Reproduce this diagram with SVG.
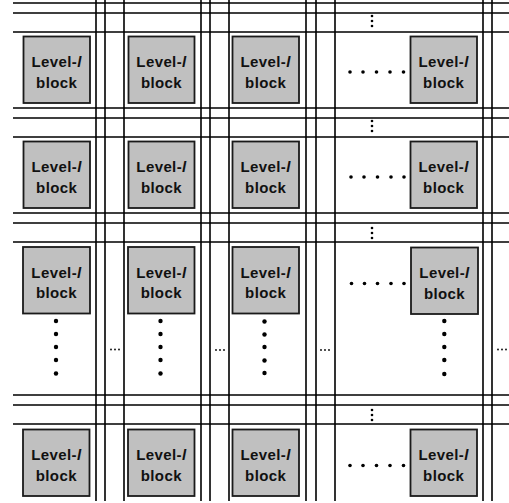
<svg xmlns="http://www.w3.org/2000/svg" width="509" height="503" viewBox="0 0 509 503">
<style>
.ln{stroke:#000;stroke-width:1.6;fill:none}
.blk{fill:#c0c0c0;stroke:#1a1a1a;stroke-width:1.8}
.mk{stroke:#000;stroke-width:2.2}
.t{font-family:"Liberation Sans",Arial,sans-serif;font-size:15px;font-weight:bold;fill:#111;text-anchor:middle;letter-spacing:0.4px}
.d{fill:#000}
</style>
<g id="connectors">
<path class="ln" d="M13 3H509M13 13H509M13 32H509M13 108H509M13 118H509M13 137H509M13 213H509M13 223H509M13 242H509M13 395H509M13 405H509M13 424H509"/>
<path class="ln" d="M96 0V501M105 0V501M124 0V501M201 0V501M210 0V501M229 0V501M306 0V501M316 0V501M335 0V501M483 0V501M492 0V501"/>
</g>
<g id="vdots-bands" class="d">
<circle cx="372" cy="16" r="1.3"/><circle cx="372" cy="21" r="1.3"/><circle cx="372" cy="26" r="1.3"/>
<circle cx="372" cy="121" r="1.3"/><circle cx="372" cy="126" r="1.3"/><circle cx="372" cy="131" r="1.3"/>
<circle cx="372" cy="228" r="1.3"/><circle cx="372" cy="233" r="1.3"/><circle cx="372" cy="238" r="1.3"/>
<circle cx="372" cy="410" r="1.3"/><circle cx="372" cy="415" r="1.3"/><circle cx="372" cy="420" r="1.3"/>
</g>
<g id="hdots" class="d">
<circle cx="350" cy="72" r="1.8"/><circle cx="363" cy="72" r="1.8"/><circle cx="376.5" cy="72" r="1.8"/><circle cx="390" cy="72" r="1.8"/><circle cx="403.5" cy="72" r="1.8"/>
<circle cx="351" cy="177" r="1.8"/><circle cx="364" cy="177" r="1.8"/><circle cx="377.5" cy="177" r="1.8"/><circle cx="391" cy="177" r="1.8"/><circle cx="404" cy="177" r="1.8"/>
<circle cx="351.5" cy="283.5" r="1.8"/><circle cx="364.5" cy="283.5" r="1.8"/><circle cx="377.5" cy="283.5" r="1.8"/><circle cx="391" cy="283.5" r="1.8"/><circle cx="404" cy="283.5" r="1.8"/>
<circle cx="350" cy="465.5" r="1.8"/><circle cx="363" cy="465.5" r="1.8"/><circle cx="376.5" cy="465.5" r="1.8"/><circle cx="390" cy="465.5" r="1.8"/><circle cx="403.5" cy="465.5" r="1.8"/>
</g>
<g id="vdots-cols" class="d">
<circle cx="56" cy="321" r="2.2"/><circle cx="56" cy="334" r="2.2"/><circle cx="56" cy="347" r="2.2"/><circle cx="56" cy="360" r="2.2"/><circle cx="56" cy="373.5" r="2.2"/>
<circle cx="160.5" cy="321" r="2.2"/><circle cx="160.5" cy="334" r="2.2"/><circle cx="160.5" cy="347" r="2.2"/><circle cx="160.5" cy="360" r="2.2"/><circle cx="160.5" cy="373.5" r="2.2"/>
<circle cx="264.5" cy="321.5" r="2.2"/><circle cx="264.5" cy="334.5" r="2.2"/><circle cx="264.5" cy="347" r="2.2"/><circle cx="264.5" cy="360.5" r="2.2"/><circle cx="264.5" cy="373" r="2.2"/>
<circle cx="444.3" cy="321" r="2.2"/><circle cx="444.3" cy="334" r="2.2"/><circle cx="444.3" cy="347" r="2.2"/><circle cx="444.3" cy="360" r="2.2"/><circle cx="444.3" cy="374" r="2.2"/>
</g>
<g id="ellipses" class="d">
<circle cx="111" cy="349.5" r="0.9"/><circle cx="115" cy="349.5" r="0.9"/><circle cx="119" cy="349.5" r="0.9"/>
<circle cx="216" cy="350" r="0.9"/><circle cx="220" cy="350" r="0.9"/><circle cx="224" cy="350" r="0.9"/>
<circle cx="321" cy="350" r="0.9"/><circle cx="325" cy="350" r="0.9"/><circle cx="329" cy="350" r="0.9"/>
<circle cx="498" cy="349.5" r="0.9"/><circle cx="502" cy="349.5" r="0.9"/><circle cx="506" cy="349.5" r="0.9"/>
</g>
<g id="b11"><rect class="blk" x="23.5" y="36.5" width="66.5" height="66.5"/><text class="t" x="56.7" y="67">Level-<tspan font-style="italic">l</tspan></text><text class="t" x="56.7" y="87.5">block</text></g>
<g id="b12"><rect class="blk" x="128.5" y="36.5" width="66" height="66.5"/><text class="t" x="161.5" y="67">Level-<tspan font-style="italic">l</tspan></text><text class="t" x="161.5" y="87.5">block</text></g>
<g id="b13"><rect class="blk" x="232.5" y="36.5" width="66.5" height="66.5"/><text class="t" x="265.7" y="67">Level-<tspan font-style="italic">l</tspan></text><text class="t" x="265.7" y="87.5">block</text></g>
<g id="b14"><rect class="blk" x="410.5" y="36.5" width="66.5" height="66.5"/><text class="t" x="443.7" y="67">Level-<tspan font-style="italic">l</tspan></text><text class="t" x="443.7" y="87.5">block</text></g>
<g id="b21"><rect class="blk" x="23.5" y="141.5" width="66.5" height="66.5"/><text class="t" x="56.7" y="172">Level-<tspan font-style="italic">l</tspan></text><text class="t" x="56.7" y="192.5">block</text></g>
<g id="b22"><rect class="blk" x="128.5" y="141.5" width="66" height="66.5"/><text class="t" x="161.5" y="172">Level-<tspan font-style="italic">l</tspan></text><text class="t" x="161.5" y="192.5">block</text></g>
<g id="b23"><rect class="blk" x="232.5" y="141.5" width="66.5" height="66.5"/><text class="t" x="265.7" y="172">Level-<tspan font-style="italic">l</tspan></text><text class="t" x="265.7" y="192.5">block</text></g>
<g id="b24"><rect class="blk" x="410.5" y="141.5" width="66.5" height="66.5"/><text class="t" x="443.7" y="172">Level-<tspan font-style="italic">l</tspan></text><text class="t" x="443.7" y="192.5">block</text></g>
<g id="b31"><rect class="blk" x="23" y="247" width="67" height="66.5"/><text class="t" x="56.5" y="277.5">Level-<tspan font-style="italic">l</tspan></text><text class="t" x="56.5" y="298">block</text></g>
<g id="b32"><rect class="blk" x="128" y="247" width="66.5" height="66.5"/><text class="t" x="161.3" y="277.5">Level-<tspan font-style="italic">l</tspan></text><text class="t" x="161.3" y="298">block</text></g>
<g id="b33"><rect class="blk" x="232.5" y="247" width="66.5" height="66.5"/><text class="t" x="265.7" y="277.5">Level-<tspan font-style="italic">l</tspan></text><text class="t" x="265.7" y="298">block</text></g>
<g id="b34"><rect class="blk" x="411" y="247.5" width="67" height="66.5"/><text class="t" x="444.5" y="278">Level-<tspan font-style="italic">l</tspan></text><text class="t" x="444.5" y="298.5">block</text></g>
<g id="b41"><rect class="blk" x="23" y="429.5" width="66.5" height="66.5"/><text class="t" x="56.3" y="460">Level-<tspan font-style="italic">l</tspan></text><text class="t" x="56.3" y="480.5">block</text></g>
<g id="b42"><rect class="blk" x="128" y="429.5" width="66.5" height="66.5"/><text class="t" x="161.3" y="460">Level-<tspan font-style="italic">l</tspan></text><text class="t" x="161.3" y="480.5">block</text></g>
<g id="b43"><rect class="blk" x="232.5" y="429.5" width="66.5" height="66.5"/><text class="t" x="265.7" y="460">Level-<tspan font-style="italic">l</tspan></text><text class="t" x="265.7" y="480.5">block</text></g>
<g id="b44"><rect class="blk" x="410.5" y="429.5" width="66.5" height="66.5"/><text class="t" x="443.7" y="460">Level-<tspan font-style="italic">l</tspan></text><text class="t" x="443.7" y="480.5">block</text></g>
</svg>
